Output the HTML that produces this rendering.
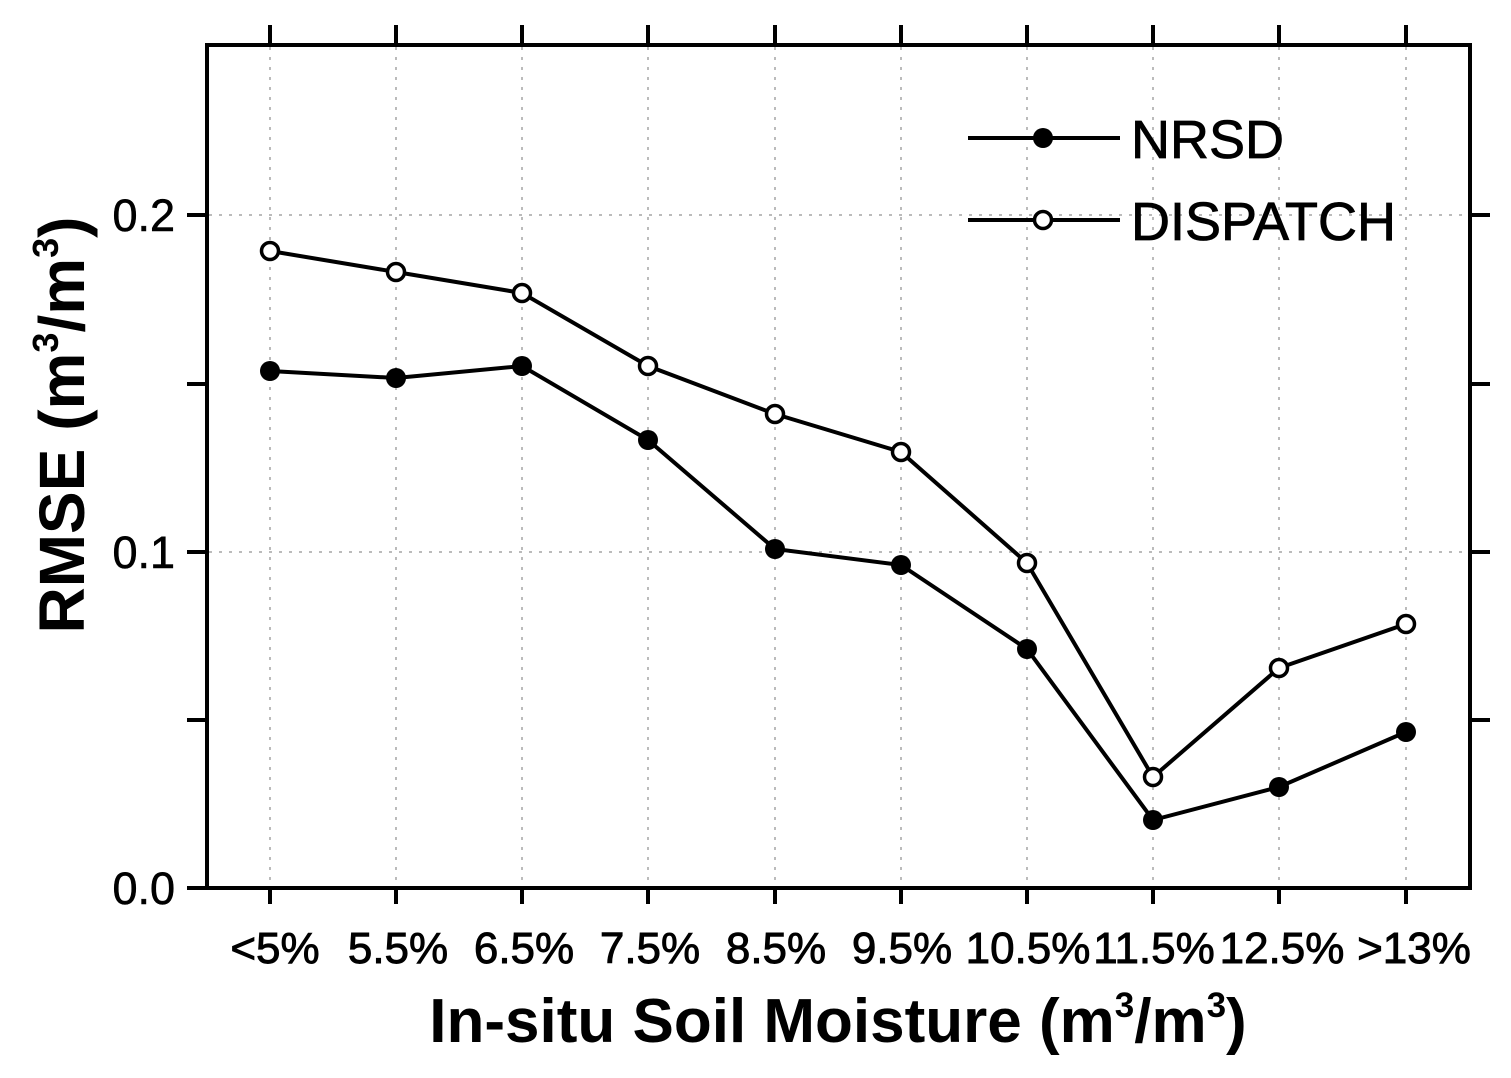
<!DOCTYPE html>
<html><head><meta charset="utf-8"><style>body{margin:0;background:#fff}svg{display:block}</style></head><body>
<svg width="1511" height="1078" xmlns="http://www.w3.org/2000/svg" font-family="'Liberation Sans', Arial, sans-serif">
<g stroke="#bbb" stroke-width="2" stroke-dasharray="3,7">
<line x1="270" y1="47" x2="270" y2="887"/><line x1="396" y1="47" x2="396" y2="887"/><line x1="522" y1="47" x2="522" y2="887"/><line x1="648" y1="47" x2="648" y2="887"/><line x1="775" y1="47" x2="775" y2="887"/><line x1="901" y1="47" x2="901" y2="887"/><line x1="1027" y1="47" x2="1027" y2="887"/><line x1="1153" y1="47" x2="1153" y2="887"/><line x1="1279" y1="47" x2="1279" y2="887"/><line x1="1406" y1="47" x2="1406" y2="887"/>
<line x1="209" y1="215" x2="1468" y2="215"/><line x1="209" y1="552" x2="1468" y2="552"/>
</g>
<rect x="207" y="45" width="1263" height="843" fill="none" stroke="#000" stroke-width="4"/>
<g stroke="#000" stroke-width="4">
<path d="M270 888v16M396 888v16M522 888v16M648 888v16M775 888v16M901 888v16M1027 888v16M1153 888v16M1279 888v16M1406 888v16"/>
<path d="M270 45v-20M396 45v-20M522 45v-20M648 45v-20M775 45v-20M901 45v-20M1027 45v-20M1153 45v-20M1279 45v-20M1406 45v-20"/>
<path d="M207 215h-20M207 384h-20M207 552h-20M207 720h-20M207 888h-20"/>
<path d="M1470 215h20M1470 384h20M1470 552h20M1470 720h20"/>
</g>
<g font-size="45" text-anchor="end" fill="#000" stroke="#000" stroke-width="0.6">
<text x="175" y="231">0.2</text><text x="175" y="568">0.1</text><text x="175" y="904">0.0</text>
</g>
<g font-size="44" text-anchor="middle" fill="#000" stroke="#000" stroke-width="0.9">
<text x="275" y="963">&lt;5%</text><text x="398" y="963">5.5%</text><text x="524" y="963">6.5%</text><text x="650" y="963">7.5%</text><text x="776" y="963">8.5%</text><text x="902" y="963">9.5%</text><text x="1028" y="963">10.5%</text><text x="1154" y="963">11.5%</text><text x="1282" y="963">12.5%</text><text x="1414" y="963">&gt;13%</text>
</g>
<text x="838" y="1042" font-size="62" font-weight="bold" text-anchor="middle">In-situ Soil Moisture (m<tspan dy="-25" font-size="35">3</tspan><tspan dy="25">/m</tspan><tspan dy="-25" font-size="35">3</tspan><tspan dy="25">)</tspan></text>
<text transform="translate(84,425) rotate(-90)" font-size="64" font-weight="bold" text-anchor="middle">RMSE (m<tspan dy="-26" font-size="36">3</tspan><tspan dy="26">/m</tspan><tspan dy="-26" font-size="36">3</tspan><tspan dy="26">)</tspan></text>
<g stroke="#000" stroke-width="4" fill="none">
<polyline points="270,371 396,378 522,366 648,440 775,549 901,565 1027,649 1153,820 1279,787 1406,732"/>
<polyline points="270,251 396,272 522,293 648,366 775,414 901,452 1027,563 1153,777 1279,668 1406,624"/>
<line x1="968" y1="138" x2="1120" y2="138"/><line x1="968" y1="220" x2="1120" y2="220"/>
</g>
<g fill="#000">
<circle cx="270" cy="371" r="10"/><circle cx="396" cy="378" r="10"/><circle cx="522" cy="366" r="10"/><circle cx="648" cy="440" r="10"/><circle cx="775" cy="549" r="10"/><circle cx="901" cy="565" r="10"/><circle cx="1027" cy="649" r="10"/><circle cx="1153" cy="820" r="10"/><circle cx="1279" cy="787" r="10"/><circle cx="1406" cy="732" r="10"/><circle cx="1043" cy="138" r="10"/>
</g>
<g fill="#fff" stroke="#000" stroke-width="3.5">
<circle cx="270" cy="251" r="8.5"/><circle cx="396" cy="272" r="8.5"/><circle cx="522" cy="293" r="8.5"/><circle cx="648" cy="366" r="8.5"/><circle cx="775" cy="414" r="8.5"/><circle cx="901" cy="452" r="8.5"/><circle cx="1027" cy="563" r="8.5"/><circle cx="1153" cy="777" r="8.5"/><circle cx="1279" cy="668" r="8.5"/><circle cx="1406" cy="624" r="8.5"/><circle cx="1043" cy="220" r="8.5"/>
</g>
<g font-size="54" fill="#000" stroke="#000" stroke-width="0.8"><text x="1131" y="158">NRSD</text><text x="1131" y="240">DISPATCH</text></g>
</svg>
</body></html>
